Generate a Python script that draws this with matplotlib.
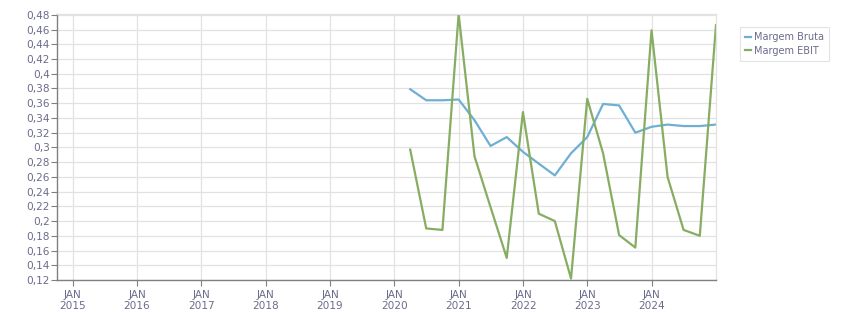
import matplotlib
matplotlib.use("Agg")
import matplotlib.pyplot as plt
import matplotlib.dates as mdates
import matplotlib.ticker as mticker
import pandas as pd

dates = ["2020-03-31", "2020-06-30", "2020-09-30", "2020-12-31",
         "2021-03-31", "2021-06-30", "2021-09-30", "2021-12-31",
         "2022-03-31", "2022-06-30", "2022-09-30", "2022-12-31",
         "2023-03-31", "2023-06-30", "2023-09-30", "2023-12-31",
         "2024-03-31", "2024-06-30", "2024-09-30", "2024-12-31"]
margem_bruta = [0.379, 0.364, 0.364, 0.365, 0.337, 0.302, 0.314, 0.294,
                0.278, 0.262, 0.292, 0.314, 0.359, 0.357, 0.320, 0.328,
                0.331, 0.329, 0.329, 0.331]
margem_ebit = [0.297, 0.190, 0.188, 0.481, 0.288, 0.219, 0.150, 0.348,
               0.210, 0.200, 0.122, 0.366, 0.292, 0.181, 0.164, 0.459,
               0.260, 0.188, 0.180, 0.466]
tick_years = list(range(2015, 2025))

x = pd.to_datetime(dates)
W, H = 851, 313
fig = plt.figure(figsize=(W / 100, H / 100), dpi=100)
ax = fig.add_axes([57 / W, (H - 280) / H, (716 - 57) / W, (280 - 13.5) / H])

txt = "#6b6b8c"
ax.plot(x, margem_bruta, color="#6fafd4", lw=1.6, label="Margem Bruta")
ax.plot(x, margem_ebit, color="#86ad62", lw=1.6, label="Margem EBIT")

ax.set_xlim(pd.Timestamp("2014-10-04"), pd.Timestamp("2024-12-31"))
ax.set_ylim(0.12, 0.4818)

ax.set_yticks([0.12 + 0.02 * i for i in range(19)])
ax.yaxis.set_major_formatter(mticker.FuncFormatter(
    lambda v, p: (f"{v:.2f}".rstrip("0").rstrip(".")).replace(".", ",")))
ax.set_xticks([pd.Timestamp(f"{y}-01-01") for y in tick_years])
ax.set_xticklabels([f"JAN\n{y}" for y in tick_years])

ax.grid(True, color="#e2e2e2", lw=0.9)
ax.set_axisbelow(True)
for s in ["top", "right"]:
    ax.spines[s].set_color("#e2e2e2")
    ax.spines[s].set_linewidth(0.9)
for s in ["left", "bottom"]:
    ax.spines[s].set_color("#808080")
    ax.spines[s].set_linewidth(1.0)
ax.tick_params(axis="both", colors="#808080", labelcolor=txt, labelsize=7.6,
               length=4, width=0.8)
ax.tick_params(axis="y", pad=1)
ax.tick_params(axis="x", pad=3)

leg = fig.legend(loc="upper left", bbox_to_anchor=(740 / W, 1 - 27 / H),
                 fontsize=7, frameon=True, fancybox=False, handlelength=0.6,
                 handletextpad=0.3, borderpad=0.55, labelspacing=0.35,
                 borderaxespad=0)
leg.get_frame().set_edgecolor("#dddddd")
leg.get_frame().set_linewidth(0.8)
for t in leg.get_texts():
    t.set_color(txt)

fig.savefig("out.png", dpi=100)
